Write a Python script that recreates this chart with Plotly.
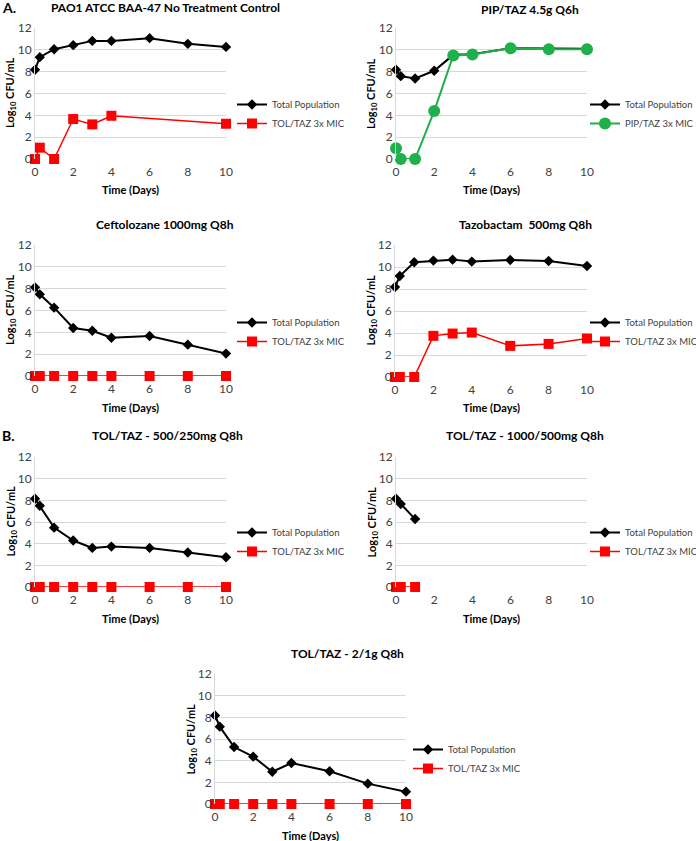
import plotly.graph_objects as go

W, H = 696, 841

# ---------------- data ----------------
days_full = [0, 0.25, 1, 2, 3, 4, 6, 8, 10]

p1_title = "PAO1 ATCC BAA-47 No Treatment Control"
p1_total = [8.17, 9.33, 10.06, 10.43, 10.82, 10.82, 11.07, 10.55, 10.27]
p1_res_days = [0, 0.25, 1, 2, 3, 4, 10]
p1_res = [0, 1.04, 0, 3.66, 3.17, 3.96, 3.23]

p2_title = "PIP/TAZ 4.5g Q6h"
p2_total = [8.17, 7.59, 7.38, 8.08, 9.54, 9.60, 10.15, 10.10, 10.10]
p2_res = [0.98, 0, 0, 4.39, 9.48, 9.57, 10.15, 10.06, 10.06]

p3_title = "Ceftolozane 1000mg Q8h"
p3_total = [8.12, 7.48, 6.26, 4.40, 4.15, 3.51, 3.66, 2.87, 2.05]
p3_res = [0, 0, 0, 0, 0, 0, 0, 0, 0]

p4_title = "Tazobactam  500mg Q8h"
p4_total = [8.18, 9.18, 10.43, 10.58, 10.67, 10.49, 10.64, 10.55, 10.09]
p4_res = [0, 0, 0, 3.74, 3.95, 4.04, 2.83, 3.01, 3.50]

p5_title = "TOL/TAZ - 500/250mg Q8h"
p5_total = [8.14, 7.50, 5.48, 4.29, 3.61, 3.73, 3.61, 3.18, 2.75]
p5_res = [0, 0, 0, 0, 0, 0, 0, 0, 0]

p6_title = "TOL/TAZ - 1000/500mg Q8h"
p6_days = [0, 0.25, 1]
p6_total = [8.14, 7.65, 6.27]
p6_res = [0, 0, 0]

p7_title = "TOL/TAZ - 2/1g Q8h"
p7_total = [8.18, 7.14, 5.26, 4.37, 2.98, 3.78, 3.02, 1.88, 1.14]
p7_res = [0, 0, 0, 0, 0, 0, 0, 0, 0]

total_name = "Total Population"
tol_name = "TOL/TAZ 3x MIC"
pip_name = "PIP/TAZ 3x MIC"

x_ticks = [0, 2, 4, 6, 8, 10]
y_ticks = [0, 2, 4, 6, 8, 10, 12]

# ---------------- layout geometry (pixels) ----------------
panels = [
    dict(title=p1_title, tx=days_full, ty=p1_total, rx=p1_res_days, ry=p1_res, rname=tol_name, rtype="sq",
         box=(35, 226, 28, 159), tpos=(165, 8), leg=(232, 90)),
    dict(title=p2_title, tx=days_full, ty=p2_total, rx=days_full, ry=p2_res, rname=pip_name, rtype="ci",
         box=(396, 587, 28, 159), tpos=(530, 9), leg=(585, 90)),
    dict(title=p3_title, tx=days_full, ty=p3_total, rx=days_full, ry=p3_res, rname=tol_name, rtype="sq",
         box=(35, 226, 245, 376), tpos=(165, 224), leg=(232, 308)),
    dict(title=p4_title, tx=days_full, ty=p4_total, rx=days_full, ry=p4_res, rname=tol_name, rtype="sq",
         box=(395, 587, 245, 377), tpos=(525, 224), leg=(585, 308)),
    dict(title=p5_title, tx=days_full, ty=p5_total, rx=days_full, ry=p5_res, rname=tol_name, rtype="sq",
         box=(35, 226, 457, 587), tpos=(167, 435), leg=(232, 518)),
    dict(title=p6_title, tx=p6_days, ty=p6_total, rx=p6_days, ry=p6_res, rname=tol_name, rtype="sq",
         box=(396, 587, 457, 587), tpos=(525, 435), leg=(585, 518)),
    dict(title=p7_title, tx=days_full, ty=p7_total, rx=days_full, ry=p7_res, rname=tol_name, rtype="sq",
         box=(215, 406, 674, 804), tpos=(347, 653), leg=(408, 735)),
]

FONT = "Lato"
fig = go.Figure()
annotations = []
layout = dict(
    width=W, height=H,
    margin=dict(l=0, r=0, t=0, b=0, autoexpand=False),
    paper_bgcolor="white", plot_bgcolor="white",
    font=dict(family=FONT, size=11, color="#404040"),
    showlegend=True,
)

for i, p in enumerate(panels, start=1):
    sfx = "" if i == 1 else str(i)
    x0, x1, ytop, ybot = p["box"]
    xa = "x" + sfx
    ya = "y" + sfx
    lg = "legend" + sfx
    fig.add_trace(go.Scatter(
        x=p["tx"], y=p["ty"], name=total_name, mode="lines+markers",
        line=dict(color="black", width=2),
        marker=dict(symbol="diamond", size=8, color="black"),
        xaxis=xa, yaxis=ya, legend=lg, cliponaxis=False,
    ))
    if p["rtype"] == "sq":
        rmarker = dict(symbol="square", size=10, color="#ff0000")
        rline = dict(color="#ff0000", width=1.5)
    else:
        rmarker = dict(symbol="circle", size=12, color="#1fb04b")
        rline = dict(color="#1fb04b", width=2)
    fig.add_trace(go.Scatter(
        x=p["rx"], y=p["ry"], name=p["rname"], mode="lines+markers",
        line=rline, marker=rmarker,
        xaxis=xa, yaxis=ya, legend=lg, cliponaxis=False,
    ))
    layout["xaxis" + sfx] = dict(
        domain=[x0 / W, x1 / W], range=[0, 10], tickvals=x_ticks,
        showgrid=False, zeroline=False, showline=False, ticks="",
        ticklabelstandoff=4,
        anchor=ya, tickfont=dict(size=12, color="#404040"), fixedrange=True,
    )
    layout["yaxis" + sfx] = dict(
        domain=[1 - ybot / H, 1 - ytop / H], range=[0, 12], tickvals=y_ticks,
        showgrid=True, gridcolor="#d9d9d9", gridwidth=1, zeroline=False,
        showline=True, linecolor="#d9d9d9", linewidth=1, ticks="",
        anchor=xa, tickfont=dict(size=12, color="#404040"), fixedrange=True,
    )
    lx, ly = p["leg"]
    layout[lg] = dict(
        x=lx / W, y=1 - ly / H, xanchor="left", yanchor="top",
        xref="paper", yref="paper",
        bgcolor="rgba(0,0,0,0)", font=dict(family=FONT, size=9.5, color="#404040"),
        itemwidth=30, tracegroupgap=0,
    )
    tx, ty = p["tpos"]
    annotations.append(dict(
        x=tx / W, y=1 - ty / H, xref="paper", yref="paper",
        text="<b>" + p["title"] + "</b>", showarrow=False,
        xanchor="center", yanchor="middle",
        font=dict(family=FONT, size=12, color="black"),
    ))
    annotations.append(dict(
        x=(x0 - 34) / W, y=1 - ((ytop + ybot) / 2) / H, xref="paper", yref="paper",
        text="<b>Log<sub>10</sub> CFU/mL</b>", showarrow=False, textangle=-90,
        xanchor="left", yanchor="middle",
        font=dict(family=FONT, size=11, color="black"),
    ))
    annotations.append(dict(
        x=((x0 + x1) / 2) / W, y=1 - (ybot + 31) / H, xref="paper", yref="paper",
        text="<b>Time (Days)</b>", showarrow=False,
        xanchor="center", yanchor="middle",
        font=dict(family=FONT, size=11, color="black"),
    ))

annotations.append(dict(x=0, y=1 - 8 / H, xref="paper", yref="paper", text="<b>A.</b>",
                        showarrow=False, xanchor="left", yanchor="middle",
                        font=dict(family=FONT, size=14, color="black")))
annotations.append(dict(x=0, y=1 - 435 / H, xref="paper", yref="paper", text="<b>B.</b>",
                        showarrow=False, xanchor="left", yanchor="middle",
                        font=dict(family=FONT, size=14, color="black")))

layout["annotations"] = annotations
fig.update_layout(**layout)
fig.write_html(
    "out.html",
    config={"displayModeBar": False},
    post_script="document.body.style.margin='0';document.body.style.overflow='hidden';",
)
